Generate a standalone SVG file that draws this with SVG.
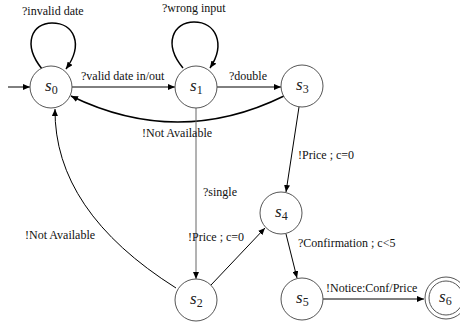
<svg xmlns="http://www.w3.org/2000/svg" width="460" height="325" viewBox="0 0 460 325">
  <style>
    .state { fill: #fff; stroke: #555; stroke-width: 1; }
    .edge { fill: none; stroke: #000; stroke-width: 1; marker-end: url(#arrow); }
    .thick { stroke-width: 1.5; }
    .grey { stroke: #666; }
    .lbl { font-family: "Liberation Serif", "Times New Roman", serif; font-size: 12px; fill: #111; }
    .name { font-family: "Liberation Serif", "Times New Roman", serif; font-size: 17px; font-style: italic; fill: #222; }
    .sub { font-size: 12px; font-style: normal; }
  </style>
  <defs>
    <marker id="arrow" markerUnits="userSpaceOnUse" markerWidth="8" markerHeight="6" refX="7" refY="3" orient="auto">
      <path d="M0,0 L7,3 L0,6 z" fill="#000"/>
    </marker>
  </defs>
  <rect width="460" height="325" fill="#fff"/>

  <g id="connectors">
    <!-- initial arrow -->
    <path class="edge" d="M 8 87 L 30 87"/>
    <!-- self loops -->
    <path class="edge thick" d="M 42 69 C 22 44, 32 23, 52 23 C 74 23, 84 44, 66 69"/>
    <path class="edge thick" d="M 183 68 C 163 44, 173 22, 194 22 C 216 22, 226 44, 210 68"/>
    <!-- s0 -> s1 -->
    <path class="edge" d="M 72 87 L 175 87"/>
    <!-- s1 -> s3 -->
    <path class="edge" d="M 217 87 L 281 87"/>
    <!-- s3 -> s0 -->
    <path class="edge thick" d="M 284 96 Q 178 148 71 96"/>
    <!-- s1 -> s2 -->
    <path class="edge grey" d="M 196 108 L 196 279"/>
    <!-- s2 -> s0 -->
    <path class="edge" d="M 176 288 Q 54 211 55 109"/>
    <!-- s2 -> s4 -->
    <path class="edge" d="M 211 285 L 265 228"/>
    <!-- s3 -> s4 -->
    <path class="edge" d="M 299 107 L 286 192"/>
    <!-- s4 -> s5 -->
    <path class="edge" d="M 286 234 L 297 278"/>
    <!-- s5 -> s6 -->
    <path class="edge" d="M 323 299 L 424 299"/>
  </g>

  <g id="labels">
    <text class="lbl" x="22" y="15">?invalid date</text>
    <text class="lbl" x="162" y="12">?wrong input</text>
    <text class="lbl" x="81" y="80">?valid date in/out</text>
    <text class="lbl" x="229" y="80">?double</text>
    <text class="lbl" x="142" y="137">!Not Available</text>
    <text class="lbl" x="203" y="196">?single</text>
    <text class="lbl" x="188" y="241">!Price ; c=0</text>
    <text class="lbl" x="298" y="159">!Price ; c=0</text>
    <text class="lbl" x="25" y="239">!Not Available</text>
    <text class="lbl" x="298" y="247">?Confirmation ; c&lt;5</text>
    <text class="lbl" x="326" y="292">!Notice:Conf/Price</text>
  </g>

  <g id="s0">
    <circle class="state" cx="51" cy="87" r="21"/>
    <text class="name" x="45" y="91">s<tspan class="sub" dy="3">0</tspan></text>
  </g>
  <g id="s1">
    <circle class="state" cx="196" cy="87" r="21"/>
    <text class="name" x="190" y="91">s<tspan class="sub" dy="3">1</tspan></text>
  </g>
  <g id="s3">
    <circle class="state" cx="302" cy="86" r="21"/>
    <text class="name" x="296" y="90">s<tspan class="sub" dy="3">3</tspan></text>
  </g>
  <g id="s2">
    <circle class="state" cx="196" cy="300" r="21"/>
    <text class="name" x="190" y="304">s<tspan class="sub" dy="3">2</tspan></text>
  </g>
  <g id="s4">
    <circle class="state" cx="281" cy="213" r="21"/>
    <text class="name" x="275" y="217">s<tspan class="sub" dy="3">4</tspan></text>
  </g>
  <g id="s5">
    <circle class="state" cx="302" cy="299" r="21"/>
    <text class="name" x="296" y="303">s<tspan class="sub" dy="3">5</tspan></text>
  </g>
  <g id="s6">
    <circle class="state" cx="446" cy="298" r="21"/>
    <circle class="state" cx="446" cy="298" r="17"/>
    <text class="name" x="439" y="302">s<tspan class="sub" dy="3">6</tspan></text>
  </g>
</svg>
